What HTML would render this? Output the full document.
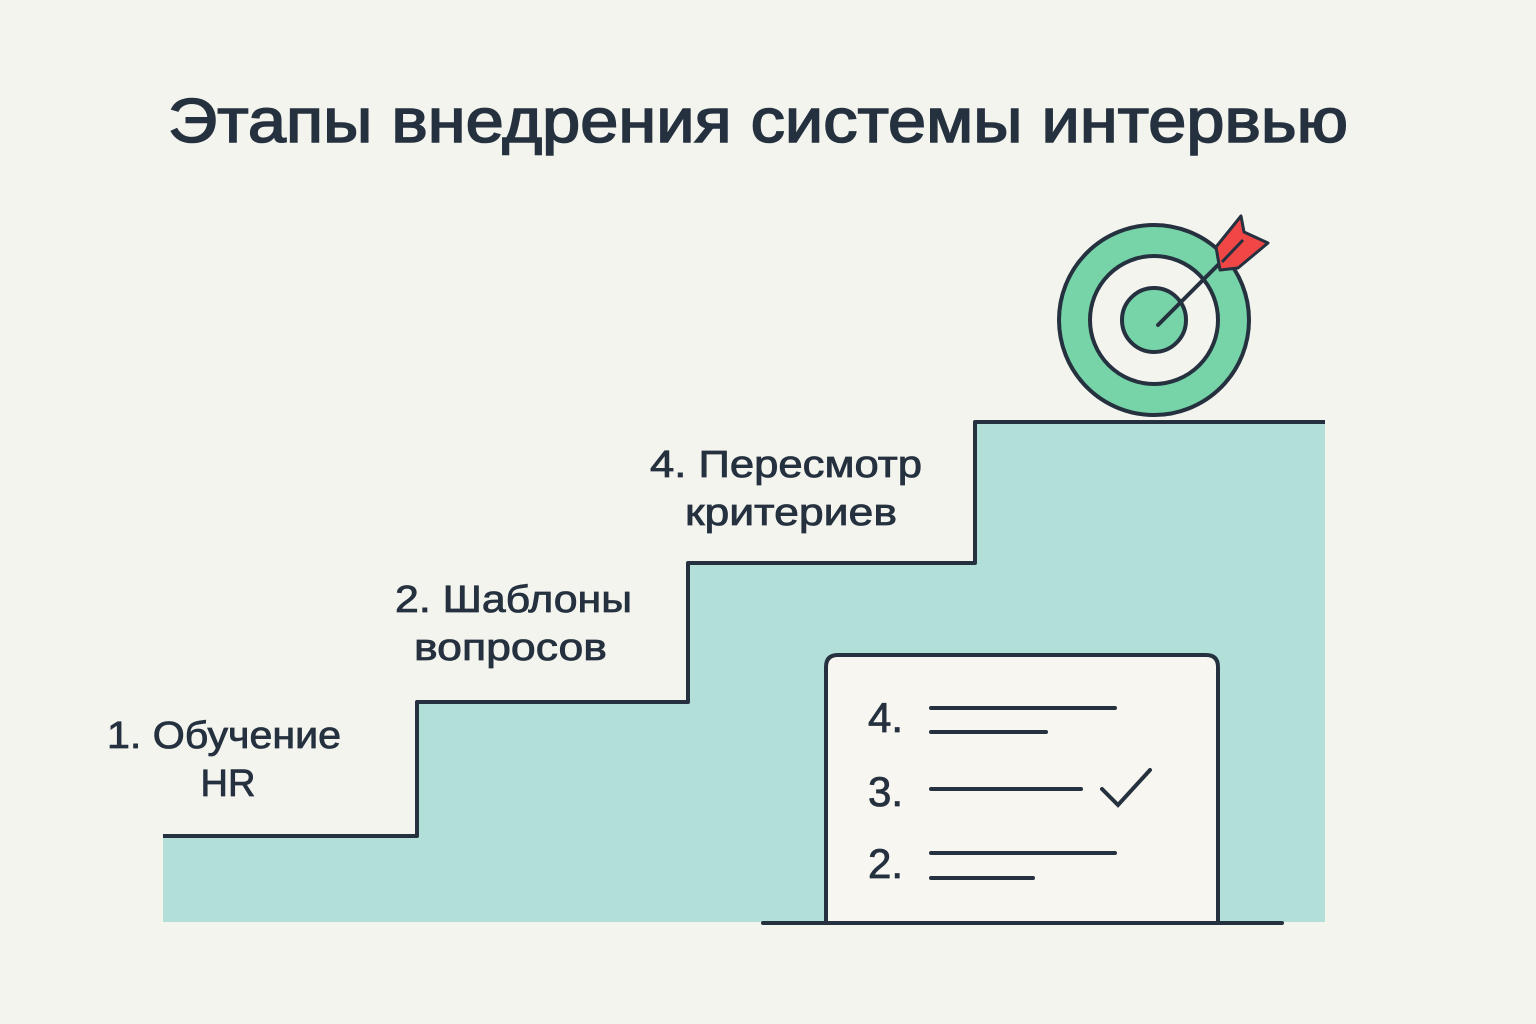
<!DOCTYPE html>
<html><head><meta charset="utf-8"><style>
html,body{margin:0;padding:0;background:#f4f4ef;}
svg{display:block}
text{font-family:"Liberation Sans","DejaVu Sans",sans-serif;fill:#25313f;stroke:#25313f;stroke-width:0.8}
</style></head><body>
<svg width="1536" height="1024" viewBox="0 0 1536 1024" xmlns="http://www.w3.org/2000/svg">
<rect width="1536" height="1024" fill="#f4f4ef"/>
<text x="168" y="142" font-size="62" style="stroke-width:1.6" textLength="1180" lengthAdjust="spacingAndGlyphs">Этапы внедрения системы интервью</text>
<polygon points="163,836 417,836 417,702 688,702 688,563 975,563 975,422 1325,422 1325,922 163,922" fill="#b2e0d9"/>
<polyline points="163,836 417,836 417,702 688,702 688,563 975,563 975,422 1325,422" fill="none" stroke="#25313f" stroke-width="4" stroke-linejoin="round"/>
<text x="107" y="748" font-size="38" textLength="234" lengthAdjust="spacingAndGlyphs">1. Обучение</text>
<text x="228" y="796" font-size="38" text-anchor="middle">HR</text>
<text x="395" y="612" font-size="38" textLength="237" lengthAdjust="spacingAndGlyphs">2. Шаблоны</text>
<text x="414" y="660" font-size="38" textLength="193" lengthAdjust="spacingAndGlyphs">вопросов</text>
<text x="650" y="477" font-size="38" textLength="272" lengthAdjust="spacingAndGlyphs">4. Пересмотр</text>
<text x="685" y="525" font-size="38" textLength="212" lengthAdjust="spacingAndGlyphs">критериев</text>
<!-- target -->
<circle cx="1154" cy="320" r="95" fill="#77d4a8" stroke="#25313f" stroke-width="4"/>
<circle cx="1154" cy="320" r="64" fill="#f4f4ef" stroke="#25313f" stroke-width="4"/>
<circle cx="1154" cy="320" r="32" fill="#77d4a8" stroke="#25313f" stroke-width="4"/>
<line x1="1158" y1="325" x2="1228" y2="255" stroke="#25313f" stroke-width="4" stroke-linecap="round"/>
<polygon points="1216,247 1241,216 1244,232 1268,243 1238,268 1220,270" fill="#f04646" stroke="#25313f" stroke-width="3" stroke-linejoin="round"/>
<line x1="1222" y1="262" x2="1243" y2="240" stroke="#25313f" stroke-width="3"/>
<!-- clipboard -->
<path d="M826,923 V667 Q826,655 838,655 H1206 Q1218,655 1218,667 V923" fill="#f8f6f0" stroke="#25313f" stroke-width="4"/>
<line x1="763" y1="923" x2="1282" y2="923" stroke="#25313f" stroke-width="4" stroke-linecap="round"/>
<text x="868" y="732" font-size="42">4.</text>
<text x="868" y="806" font-size="42">3.</text>
<text x="868" y="878" font-size="42">2.</text>
<g stroke="#25313f" stroke-width="4" stroke-linecap="round">
<line x1="931" y1="708" x2="1115" y2="708"/>
<line x1="931" y1="732" x2="1046" y2="732"/>
<line x1="931" y1="789" x2="1081" y2="789"/>
<line x1="931" y1="853" x2="1115" y2="853"/>
<line x1="931" y1="878" x2="1033" y2="878"/>
<polyline points="1102,789 1118,805 1150,770" fill="none"/>
</g>
</svg>
</body></html>
